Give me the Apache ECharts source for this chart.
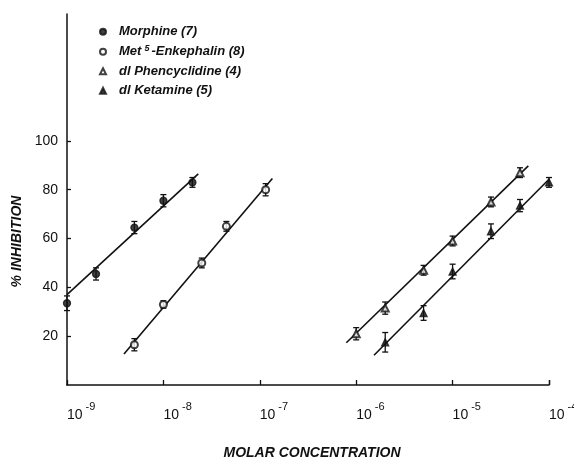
<!DOCTYPE html>
<html>
<head>
<meta charset="utf-8">
<script src="https://cdn.jsdelivr.net/npm/echarts@6/dist/echarts.min.js"></script>
<style>
html, body { margin: 0; background: #fff; }
#chart { width: 574px; height: 463px; }
</style>
</head>
<body>
<div id="chart"></div>
<script>
// legend names and marker shapes
var names = ['Morphine (7)', 'Met\u2075-Enkephalin (8)', 'dl Phencyclidine (4)', 'dl Ketamine (5)'];
var symbols = ['circle', 'emptyCircle', 'emptyTriangle', 'triangle'];

// measured points (molar concentration, % inhibition, +/- error)
var morphineX = [1e-9, 2e-9, 5e-9, 1e-8, 2e-8];
var morphineY = [33.5, 45.5, 64.5, 75.5, 83];
var morphineErr = [3, 2.5, 2.5, 2.5, 2];

var enkephalinX = [5e-9, 1e-8, 2.5e-8, 4.5e-8, 1.15e-7];
var enkephalinY = [16.5, 33, 50, 65, 80];
var enkephalinErr = [2.5, 1.5, 2, 2, 2.5];

var pcpX = [1e-6, 2e-6, 5e-6, 1e-5, 2.5e-5, 5e-5];
var pcpY = [21, 31.5, 47, 59, 75, 87];
var pcpErr = [2.5, 2.5, 2, 2, 2, 2];

var ketamineX = [2e-6, 5e-6, 1e-5, 2.5e-5, 5e-5, 1e-4];
var ketamineY = [17.5, 29.5, 46.5, 63, 73.5, 83];
var ketamineErr = [4, 3, 3, 3, 2.5, 2];

// fitted lines, end points
var morphineFitX = [1e-9, 2.3e-8];
var morphineFitY = [37, 86.5];
var enkephalinFitX = [3.9e-9, 1.35e-7];
var enkephalinFitY = [12.7, 84.6];
var pcpFitX = [7.9e-7, 6.1e-5];
var pcpFitY = [17.3, 89.8];
var ketamineFitX = [1.53e-6, 1e-4];
var ketamineFitY = [12.2, 84.3];

// tick labels
var xExponents = [-9, -8, -7, -6, -5, -4];
var yTicks = [20, 40, 60, 80, 100];

var ink = '#111';
var font = 'Liberation Sans';

function pairs(xs, ys) {
	return xs.map(function (x, i) { return [x, ys[i]]; });
}

function pointSeries(name, symbol, xs, ys) {
	return {
		name: name,
		type: 'scatter',
		symbol: symbol,
		symbolSize: 7,
		itemStyle: { color: ink, borderColor: ink, borderWidth: 1.3 },
		data: pairs(xs, ys),
		z: 4
	};
}

function errorSeries(xs, ys, errs) {
	return {
		type: 'custom',
		silent: true,
		renderItem: function (params, api) {
			var x = api.value(0), y = api.value(1), e = api.value(2);
			var top = api.coord([x, y + e]);
			var bot = api.coord([x, y - e]);
			var st = { stroke: ink, lineWidth: 1.3 };
			return {
				type: 'group',
				children: [
					{ type: 'line', shape: { x1: top[0], y1: top[1], x2: bot[0], y2: bot[1] }, style: st },
					{ type: 'line', shape: { x1: top[0] - 3, y1: top[1], x2: top[0] + 3, y2: top[1] }, style: st },
					{ type: 'line', shape: { x1: bot[0] - 3, y1: bot[1], x2: bot[0] + 3, y2: bot[1] }, style: st }
				]
			};
		},
		encode: { x: 0, y: 1 },
		data: xs.map(function (x, i) { return [x, ys[i], errs[i]]; }),
		z: 3
	};
}

function fitSeries(xs, ys) {
	return {
		type: 'line',
		silent: true,
		symbol: 'none',
		lineStyle: { color: ink, width: 1.6 },
		data: pairs(xs, ys),
		z: 2
	};
}

var myChart = echarts.init(document.getElementById('chart'));
option = {
	backgroundColor: '#fff',
	animation: false,
	grid: { left: 67, right: 25, top: 14, bottom: 78, outerBoundsMode: 'none' },
	legend: {
		orient: 'vertical',
		left: 99,
		top: 25,
		padding: 0,
		itemWidth: 6,
		itemHeight: 6,
		itemGap: 6,
		data: names,
		formatter: function (name) {
			// raise the superscript 5 in Met5
			return name.replace('\u2075', '{s|5}');
		},
		textStyle: {
			color: ink,
			fontFamily: font,
			fontSize: 13,
			fontStyle: 'italic',
			fontWeight: 'bold',
			lineHeight: 13.5,
			padding: [0, 0, 0, 8],
			rich: {
				s: {
					color: ink, fontFamily: font, fontSize: 9, fontStyle: 'italic',
					fontWeight: 'bold', verticalAlign: 'bottom', padding: [0, 2, 5, 3]
				}
			}
		}
	},
	xAxis: {
		type: 'log',
		logBase: 10,
		min: 1e-9,
		max: 1e-4,
		name: 'MOLAR CONCENTRATION',
		nameLocation: 'middle',
		nameGap: 61,
		nameTextStyle: {
			color: ink, fontFamily: font, fontSize: 14,
			fontStyle: 'italic', fontWeight: 'bold', padding: [0, 0, 0, 8]
		},
		axisLine: { lineStyle: { color: ink, width: 1.5 } },
		axisTick: { inside: true, length: 5, lineStyle: { color: ink, width: 1.3 } },
		splitLine: { show: false },
		minorTick: { show: false },
		axisLabel: {
			customValues: xExponents.map(function (e) { return Math.pow(10, e); }),
			margin: 16,
			align: 'left',
			formatter: function (v) {
				var e = Math.round(Math.log10(v));
				return '{b|10}{s|-' + Math.abs(e) + '}';
			},
			rich: {
				b: { fontFamily: font, fontSize: 14, color: ink, verticalAlign: 'bottom' },
				s: { fontFamily: font, fontSize: 11, color: ink, verticalAlign: 'bottom', padding: [0, 0, 10, 3] }
			}
		}
	},
	yAxis: {
		type: 'value',
		min: 0,
		max: 152,
		name: '% INHIBITION',
		nameLocation: 'middle',
		nameGap: 43,
		nameTextStyle: {
			color: ink, fontFamily: font, fontSize: 14,
			fontStyle: 'italic', fontWeight: 'bold', padding: [0, 84, 0, 0]
		},
		axisLine: { show: true, lineStyle: { color: ink, width: 1.5 } },
		axisTick: { show: true, inside: true, length: 4, customValues: yTicks, lineStyle: { color: ink, width: 1.3 } },
		splitLine: { show: false },
		axisLabel: {
			customValues: yTicks,
			margin: 9,
			color: ink,
			fontFamily: font,
			fontSize: 14
		}
	},
	series: [
		fitSeries(morphineFitX, morphineFitY),
		fitSeries(enkephalinFitX, enkephalinFitY),
		fitSeries(pcpFitX, pcpFitY),
		fitSeries(ketamineFitX, ketamineFitY),
		errorSeries(morphineX, morphineY, morphineErr),
		errorSeries(enkephalinX, enkephalinY, enkephalinErr),
		errorSeries(pcpX, pcpY, pcpErr),
		errorSeries(ketamineX, ketamineY, ketamineErr),
		pointSeries(names[0], symbols[0], morphineX, morphineY),
		pointSeries(names[1], symbols[1], enkephalinX, enkephalinY),
		pointSeries(names[2], symbols[2], pcpX, pcpY),
		pointSeries(names[3], symbols[3], ketamineX, ketamineY)
	]
};
myChart.setOption(option);
</script>
</body>
</html>
